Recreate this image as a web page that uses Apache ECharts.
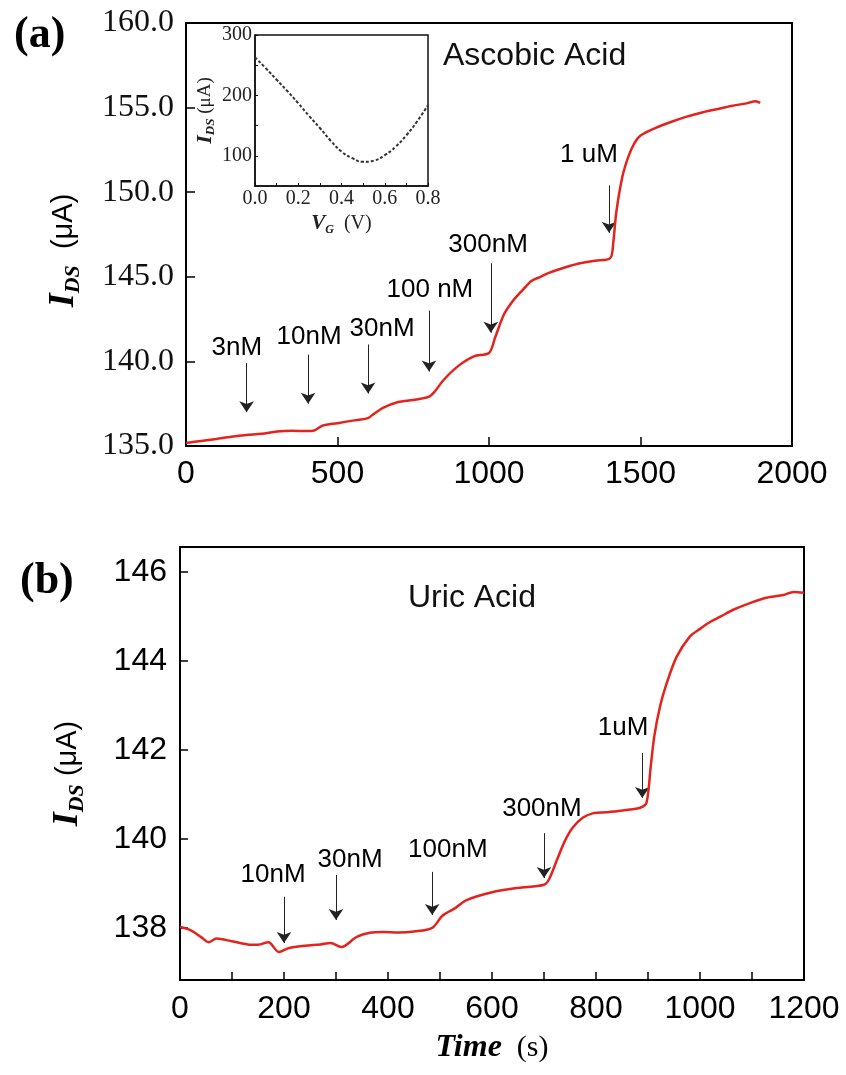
<!DOCTYPE html>
<html>
<head>
<meta charset="utf-8">
<script src="https://cdn.jsdelivr.net/npm/echarts@6/dist/echarts.min.js"></script>
<style>
  html, body { margin: 0; padding: 0; background: #fff; }
  #chart { width: 846px; height: 1075px; }
</style>
</head>
<body>
<div id="chart"></div>
<script>
// (a) Ascobic Acid
var timeA = [0, 50, 100, 150, 200, 250, 300, 350, 400, 420, 450, 500, 550, 600, 620, 650, 700, 750, 800, 820, 850, 900, 950, 1000, 1020, 1050, 1080, 1110, 1140, 1170, 1200, 1250, 1300, 1350, 1400, 1410, 1420, 1440, 1460, 1480, 1500, 1550, 1600, 1650, 1700, 1750, 1800, 1850, 1880, 1895];
var currentA = [135.18, 135.3, 135.42, 135.55, 135.65, 135.72, 135.86, 135.9, 135.88, 135.9, 136.2, 136.35, 136.5, 136.65, 136.9, 137.25, 137.6, 137.72, 137.9, 138.2, 138.9, 139.75, 140.3, 140.5, 141.4, 142.8, 143.6, 144.2, 144.75, 145.0, 145.25, 145.55, 145.8, 145.95, 146.1, 147.0, 148.8, 150.9, 152.1, 152.9, 153.35, 153.8, 154.15, 154.45, 154.7, 154.9, 155.1, 155.25, 155.38, 155.28];
var arrowTimeA = [200, 403, 601, 802, 1006, 1396];
var arrowTopA = [139.9, 140.4, 141.0, 143.0, 145.8, 150.4];
var arrowBotA = [137.0, 137.5, 138.1, 139.4, 141.7, 147.6];
var labelTextA = ['3nM', '10nM', '30nM', '100 nM', '300nM', '1 uM'];
var labelTimeA = [168, 406, 647, 805, 997, 1330];
var labelValA = [140.79, 141.44, 141.91, 144.22, 146.88, 152.2];

// inset: transfer curve
var gateV = [0, 0.05, 0.1, 0.15, 0.2, 0.25, 0.3, 0.35, 0.4, 0.45, 0.5, 0.55, 0.6, 0.65, 0.7, 0.75, 0.8];
var insetIds = [263, 245, 226, 207, 187, 166, 146, 125, 107, 96, 90, 92, 101, 115, 134, 157, 184];

// (b) Uric Acid
var timeB = [0, 20, 40, 55, 70, 100, 130, 150, 170, 190, 210, 240, 270, 290, 310, 340, 365, 390, 420, 450, 485, 505, 530, 550, 600, 650, 700, 710, 725, 740, 755, 775, 795, 820, 840, 865, 885, 897, 905, 912, 923, 936, 955, 980, 1000, 1020, 1040, 1064, 1096, 1128, 1160, 1180, 1200];
var currentB = [138.02, 137.95, 137.8, 137.68, 137.76, 137.7, 137.63, 137.62, 137.68, 137.46, 137.55, 137.6, 137.63, 137.66, 137.57, 137.8, 137.89, 137.91, 137.9, 137.92, 138.0, 138.28, 138.45, 138.62, 138.8, 138.9, 138.97, 139.1, 139.53, 139.95, 140.25, 140.48, 140.58, 140.6, 140.62, 140.66, 140.7, 140.81, 141.6, 142.3, 142.97, 143.5, 144.09, 144.54, 144.72, 144.88, 145.0, 145.15, 145.3, 145.42, 145.48, 145.55, 145.53];
var arrowTimeB = [200, 300, 485, 700, 889];
var arrowTopB = [138.7, 139.19, 139.26, 140.13, 141.93];
var arrowBotB = [137.66, 138.18, 138.29, 139.12, 140.92];
var labelTextB = ['10nM', '30nM', '100nM', '300nM', '1uM'];
var labelTimeB = [179, 327, 515, 696, 852];
var labelValB = [139.19, 139.53, 139.75, 140.67, 142.49];
var yTicksB = [138, 140, 142, 144, 146];

var serif = '"Liberation Serif", "Times New Roman", serif';
var sans = '"Liberation Sans", Arial, sans-serif';
var red = '#e3231c';

function pairs(xs, ys) {
    return xs.map(function (x, i) { return [x, ys[i]]; });
}
function arrows(ts, tops, bots) {
    return ts.map(function (t, i) { return { coords: [[t, tops[i]], [t, bots[i]]] }; });
}
function labels(names, ts, vs) {
    return names.map(function (n, i) { return { name: n, value: [ts[i], vs[i]] }; });
}

var idsName = function (size, unitFont, pad) {
    return {
        padding: pad,
        rich: {
            i: { fontFamily: serif, fontWeight: 'bold', fontStyle: 'italic', fontSize: size, lineHeight: size + 4, color: '#000' },
            sub: { fontFamily: serif, fontWeight: 'bold', fontStyle: 'italic', fontSize: Math.round(size * 0.6), verticalAlign: 'bottom', lineHeight: Math.round(size * 0.5), color: '#000' },
            u: { fontFamily: unitFont, fontSize: Math.round(size * 0.8), color: '#000' }
        }
    };
};

var noteLabel = { show: true, position: 'inside', formatter: '{b}', fontFamily: sans, fontSize: 26, color: '#000', opacity: 1, textBorderWidth: 0 };

var option = {
    backgroundColor: '#fff',
    animation: false,
    grid: [
        { left: 186, top: 23, width: 606, height: 423, show: true, borderColor: '#000', borderWidth: 2, backgroundColor: 'transparent' },
        { left: 255, top: 35, width: 173, height: 151, show: true, borderColor: '#111', borderWidth: 1.5, backgroundColor: '#fff' },
        { left: 180, top: 547, width: 624, height: 433, show: true, borderColor: '#000', borderWidth: 2, backgroundColor: 'transparent' }
    ],
    xAxis: [
        {
            gridIndex: 0, type: 'value', min: 0, max: 2000, interval: 500,
            axisLine: { lineStyle: { color: '#000', width: 2 } },
            axisTick: { inside: true, length: 9, lineStyle: { color: '#000', width: 1.5 } },
            axisLabel: {
                fontFamily: sans, fontSize: 32, color: '#000', margin: 12, showMinLabel: true, showMaxLabel: true,
                formatter: function (v) { return String(v); }
            },
            splitLine: { show: false }
        },
        {
            gridIndex: 1, type: 'value', min: 0, max: 0.8, interval: 0.1,
            axisLine: { lineStyle: { color: '#111', width: 1.5 } },
            axisTick: { inside: true, length: 3, lineStyle: { color: '#111' } },
            axisLabel: {
                fontFamily: serif, fontSize: 20, color: '#222', margin: 3, showMaxLabel: true,
                formatter: function (v) { return Math.round(v * 10) % 2 === 0 ? v.toFixed(1) : ''; }
            },
            splitLine: { show: false },
            name: '{i|V}{sub|G}{n|  (V)}', nameLocation: 'middle', nameGap: 26,
            nameTextStyle: {
                rich: {
                    i: { fontFamily: serif, fontWeight: 'bold', fontStyle: 'italic', fontSize: 21, lineHeight: 24, color: '#222' },
                    sub: { fontFamily: serif, fontWeight: 'bold', fontStyle: 'italic', fontSize: 12, verticalAlign: 'bottom', lineHeight: 10, color: '#222' },
                    n: { fontFamily: serif, fontSize: 20, color: '#222' }
                }
            }
        },
        {
            gridIndex: 2, type: 'value', min: 0, max: 1200, interval: 100,
            axisLine: { lineStyle: { color: '#000', width: 2 } },
            axisTick: { inside: true, length: 8, lineStyle: { color: '#000', width: 1.5 } },
            axisLabel: {
                fontFamily: sans, fontSize: 32, color: '#000', margin: 13, showMinLabel: true, showMaxLabel: true,
                formatter: function (v) { return v % 200 === 0 ? String(v) : ''; }
            },
            splitLine: { show: false },
            name: '{b|Time}{n|  (s)}', nameLocation: 'middle', nameGap: 52,
            nameTextStyle: {
                rich: {
                    b: { fontFamily: serif, fontWeight: 'bold', fontStyle: 'italic', fontSize: 32, color: '#000' },
                    n: { fontFamily: serif, fontSize: 30, color: '#000' }
                }
            }
        }
    ],
    yAxis: [
        {
            gridIndex: 0, type: 'value', min: 135, max: 160, interval: 5,
            axisLine: { lineStyle: { color: '#000', width: 2 } },
            axisTick: { inside: true, length: 9, lineStyle: { color: '#000', width: 1.5 } },
            axisLabel: {
                fontFamily: serif, fontSize: 32, color: '#111', margin: 12, showMinLabel: true, showMaxLabel: true,
                formatter: function (v) { return v.toFixed(1); }
            },
            splitLine: { show: false },
            name: '{i|I}{sub|DS}{u|  (μA)}', nameLocation: 'middle', nameRotate: 90, nameGap: 102,
            nameTextStyle: idsName(36, sans, [0, 32, 0, 0])
        },
        {
            gridIndex: 1, type: 'value', min: 50, max: 300, interval: 50,
            axisLine: { lineStyle: { color: '#111', width: 1.5 } },
            axisTick: { inside: true, length: 3, lineStyle: { color: '#111' } },
            axisLabel: {
                fontFamily: serif, fontSize: 20, color: '#222', margin: 3, showMaxLabel: true,
                formatter: function (v) { return v % 100 === 0 ? String(v) : ''; }
            },
            splitLine: { show: false },
            name: '{i|I}{sub|DS}{u| (μA)}', nameLocation: 'middle', nameRotate: 90, nameGap: 38,
            nameTextStyle: {
                rich: {
                    i: { fontFamily: serif, fontWeight: 'bold', fontStyle: 'italic', fontSize: 22, lineHeight: 24, color: '#222' },
                    sub: { fontFamily: serif, fontWeight: 'bold', fontStyle: 'italic', fontSize: 13, verticalAlign: 'bottom', lineHeight: 10, color: '#222' },
                    u: { fontFamily: serif, fontSize: 19, color: '#222' }
                }
            }
        },
        {
            gridIndex: 2, type: 'value', min: 136.83, max: 146.56,
            axisLine: { lineStyle: { color: '#000', width: 2 } },
            axisTick: { inside: true, length: 8, customValues: yTicksB, lineStyle: { color: '#000', width: 1.5 } },
            axisLabel: { fontFamily: sans, fontSize: 32, color: '#000', margin: 13, customValues: yTicksB },
            splitLine: { show: false },
            name: '{i|I}{sub|DS}{u| (μA)}', nameLocation: 'middle', nameRotate: 90, nameGap: 92,
            nameTextStyle: idsName(36, sans, [0, 20, 0, 0])
        }
    ],
    series: [
        {
            type: 'line', xAxisIndex: 0, yAxisIndex: 0, data: pairs(timeA, currentA),
            showSymbol: false, smooth: 0.3, lineStyle: { color: red, width: 2.5 }, z: 3
        },
        {
            type: 'line', xAxisIndex: 1, yAxisIndex: 1, data: pairs(gateV, insetIds),
            showSymbol: false, smooth: true, lineStyle: { color: '#333', width: 2, type: [3, 2] }, z: 5
        },
        {
            type: 'line', xAxisIndex: 2, yAxisIndex: 2, data: pairs(timeB, currentB),
            showSymbol: false, smooth: 0.3, lineStyle: { color: red, width: 2.5 }, z: 3
        },
        {
            type: 'lines', coordinateSystem: 'cartesian2d', xAxisIndex: 0, yAxisIndex: 0,
            data: arrows(arrowTimeA, arrowTopA, arrowBotA),
            symbol: ['none', 'arrow'], symbolSize: [7, 11],
            lineStyle: { color: '#222', width: 1, opacity: 1 }
        },
        {
            type: 'lines', coordinateSystem: 'cartesian2d', xAxisIndex: 2, yAxisIndex: 2,
            data: arrows(arrowTimeB, arrowTopB, arrowBotB),
            symbol: ['none', 'arrow'], symbolSize: [7, 11],
            lineStyle: { color: '#222', width: 1, opacity: 1 }
        },
        {
            type: 'scatter', xAxisIndex: 0, yAxisIndex: 0, symbolSize: 0,
            itemStyle: { opacity: 1 },
            data: labels(labelTextA, labelTimeA, labelValA),
            label: noteLabel
        },
        {
            type: 'scatter', xAxisIndex: 2, yAxisIndex: 2, symbolSize: 0,
            itemStyle: { opacity: 1 },
            data: labels(labelTextB, labelTimeB, labelValB),
            label: noteLabel
        }
    ],
    graphic: [
        { type: 'text', left: 14, top: 14, style: { text: '(a)', font: 'bold 44px ' + serif, fill: '#000' } },
        { type: 'text', left: 20, top: 560, style: { text: '(b)', font: 'bold 44px ' + serif, fill: '#000' } },
        { type: 'text', left: 443, top: 40, style: { text: 'Ascobic Acid', font: '32px ' + sans, fill: '#111' } },
        { type: 'text', left: 408, top: 582, style: { text: 'Uric Acid', font: '32px ' + sans, fill: '#111' } }
    ]
};

var myChart = echarts.init(document.getElementById('chart'));
myChart.setOption(option);
</script>
</body>
</html>
